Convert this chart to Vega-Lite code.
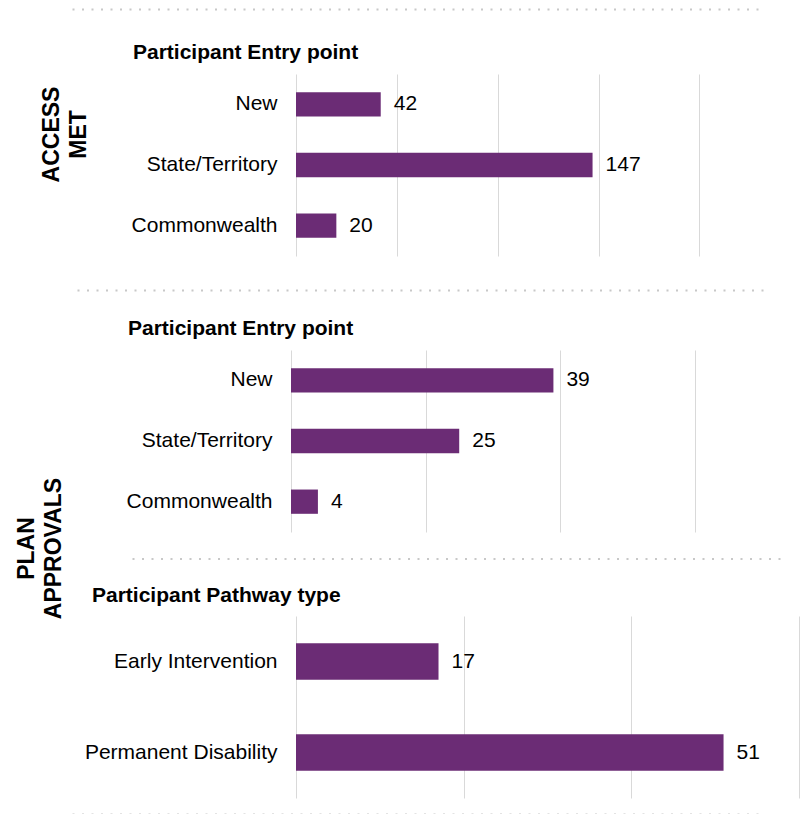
{
  "$schema": "https://vega.github.io/schema/vega-lite/v6.json",
  "padding": {"left": 0, "top": 9, "right": 0, "bottom": 0},
  "bounds": "flush",
  "spacing": 0,
  "config": {
    "font": "Liberation Sans",
    "view": {"stroke": null},
    "title": {"fontSize": 21, "fontWeight": "bold", "color": "#000", "anchor": "start", "frame": "group", "baseline": "alphabetic"},
    "axis": {"labelColor": "#000", "titleColor": "#000"}
  },
  "vconcat": [
    {
      "width": 760, "height": 65,
      "data": {"values": []},
      "mark": "point",
      "encoding": {"x": {"field": "v", "type": "quantitative", "scale": {"domain": [0, 1], "range": [72, 758]},
        "axis": {"orient": "top", "domainDash": [2, 7.5], "domainColor": "#c8c8c8", "domainWidth": 2, "ticks": false, "labels": false, "grid": false, "title": null}}}
    },
    {
      "width": 760, "height": 182,
      "title": {"text": "Participant Entry point", "dx": 133, "offset": 11},
      "data": {"values": [
        {"point": "New", "count": 42},
        {"point": "State/Territory", "count": 147},
        {"point": "Commonwealth", "count": 20}
      ]},
      "encoding": {
        "y": {"field": "point", "type": "nominal", "sort": null,
          "scale": {"paddingInner": 0.6, "paddingOuter": 0.3},
          "axis": {"title": ["ACCESS", "MET"], "titleAngle": 270, "titleX": -226, "titleY": 60, "titleAlign": "center", "titleBaseline": "middle",
            "titleFontSize": 23, "titleFontWeight": "bold", "titleLineHeight": 27,
            "labelFontSize": 21, "labelPadding": 0, "labelLimit": 300, "offset": -277, "ticks": false, "tickSize": 0, "domain": false}},
        "x": {"field": "count", "type": "quantitative",
          "scale": {"domain": [0, 230], "range": [296, 760], "nice": false},
          "axis": {"values": [0, 50, 100, 150, 200], "labels": false, "ticks": false, "domain": false, "title": null, "grid": true, "gridColor": "#d9d9d9"}}
      },
      "layer": [
        {"mark": {"type": "bar", "color": "#6b2c75"}},
        {"mark": {"type": "text", "align": "left", "baseline": "middle", "dx": 13, "fontSize": 21, "color": "#000"},
          "encoding": {"text": {"field": "count", "type": "quantitative"}}}
      ]
    },
    {
      "width": 765, "height": 94,
      "data": {"values": []},
      "mark": "point",
      "encoding": {"x": {"field": "v", "type": "quantitative", "scale": {"domain": [0, 1], "range": [77, 763]},
        "axis": {"orient": "top", "offset": -34, "domainDash": [2, 7.5], "domainColor": "#c8c8c8", "domainWidth": 2, "ticks": false, "labels": false, "grid": false, "title": null}}}
    },
    {
      "width": 762, "height": 182,
      "title": {"text": "Participant Entry point", "dx": 128, "offset": 11},
      "data": {"values": [
        {"point": "New", "count": 39},
        {"point": "State/Territory", "count": 25},
        {"point": "Commonwealth", "count": 4}
      ]},
      "encoding": {
        "y": {"field": "point", "type": "nominal", "sort": null,
          "scale": {"paddingInner": 0.6, "paddingOuter": 0.3},
          "axis": {"title": ["PLAN", "APPROVALS"], "titleAngle": 270, "titleX": -246, "titleY": 198, "titleAlign": "center", "titleBaseline": "middle",
            "titleFontSize": 23, "titleFontWeight": "bold", "titleLineHeight": 27,
            "labelFontSize": 21, "labelPadding": 0, "labelLimit": 300, "offset": -272, "ticks": false, "tickSize": 0, "domain": false}},
        "x": {"field": "count", "type": "quantitative",
          "scale": {"domain": [0, 70], "range": [291, 762], "nice": false},
          "axis": {"values": [0, 20, 40, 60], "labels": false, "ticks": false, "domain": false, "title": null, "grid": true, "gridColor": "#d9d9d9"}}
      },
      "layer": [
        {"mark": {"type": "bar", "color": "#6b2c75"}},
        {"mark": {"type": "text", "align": "left", "baseline": "middle", "dx": 13, "fontSize": 21, "color": "#000"},
          "encoding": {"text": {"field": "count", "type": "quantitative"}}}
      ]
    },
    {
      "width": 782, "height": 84,
      "data": {"values": []},
      "mark": "point",
      "encoding": {"x": {"field": "v", "type": "quantitative", "scale": {"domain": [0, 1], "range": [132, 780]},
        "axis": {"orient": "top", "offset": -26.5, "domainDash": [2, 7.5], "domainColor": "#c8c8c8", "domainWidth": 2, "ticks": false, "labels": false, "grid": false, "title": null}}}
    },
    {
      "width": 800, "height": 182,
      "title": {"text": "Participant Pathway type", "dx": 92, "offset": 10},
      "data": {"values": [
        {"pathway": "Early Intervention", "count": 17},
        {"pathway": "Permanent Disability", "count": 51}
      ]},
      "encoding": {
        "y": {"field": "pathway", "type": "nominal", "sort": null,
          "scale": {"paddingInner": 0.6, "paddingOuter": 0.3},
          "axis": {"title": null, "labelFontSize": 21, "labelPadding": 0, "labelLimit": 300, "offset": -277, "ticks": false, "tickSize": 0, "domain": false}},
        "x": {"field": "count", "type": "quantitative",
          "scale": {"domain": [0, 60], "range": [296, 799], "nice": false},
          "axis": {"values": [0, 20, 40, 60], "labels": false, "ticks": false, "domain": false, "title": null, "grid": true, "gridColor": "#d9d9d9"}}
      },
      "layer": [
        {"mark": {"type": "bar", "color": "#6b2c75"}},
        {"mark": {"type": "text", "align": "left", "baseline": "middle", "dx": 13, "fontSize": 21, "color": "#000"},
          "encoding": {"text": {"field": "count", "type": "quantitative"}}}
      ]
    },
    {
      "width": 760, "height": 16,
      "data": {"values": []},
      "mark": "point",
      "encoding": {"x": {"field": "v", "type": "quantitative", "scale": {"domain": [0, 1], "range": [72, 758]},
        "axis": {"orient": "bottom", "domainDash": [2, 7.5], "domainColor": "#c8c8c8", "domainWidth": 2, "ticks": false, "labels": false, "grid": false, "title": null}}}
    }
  ]
}
